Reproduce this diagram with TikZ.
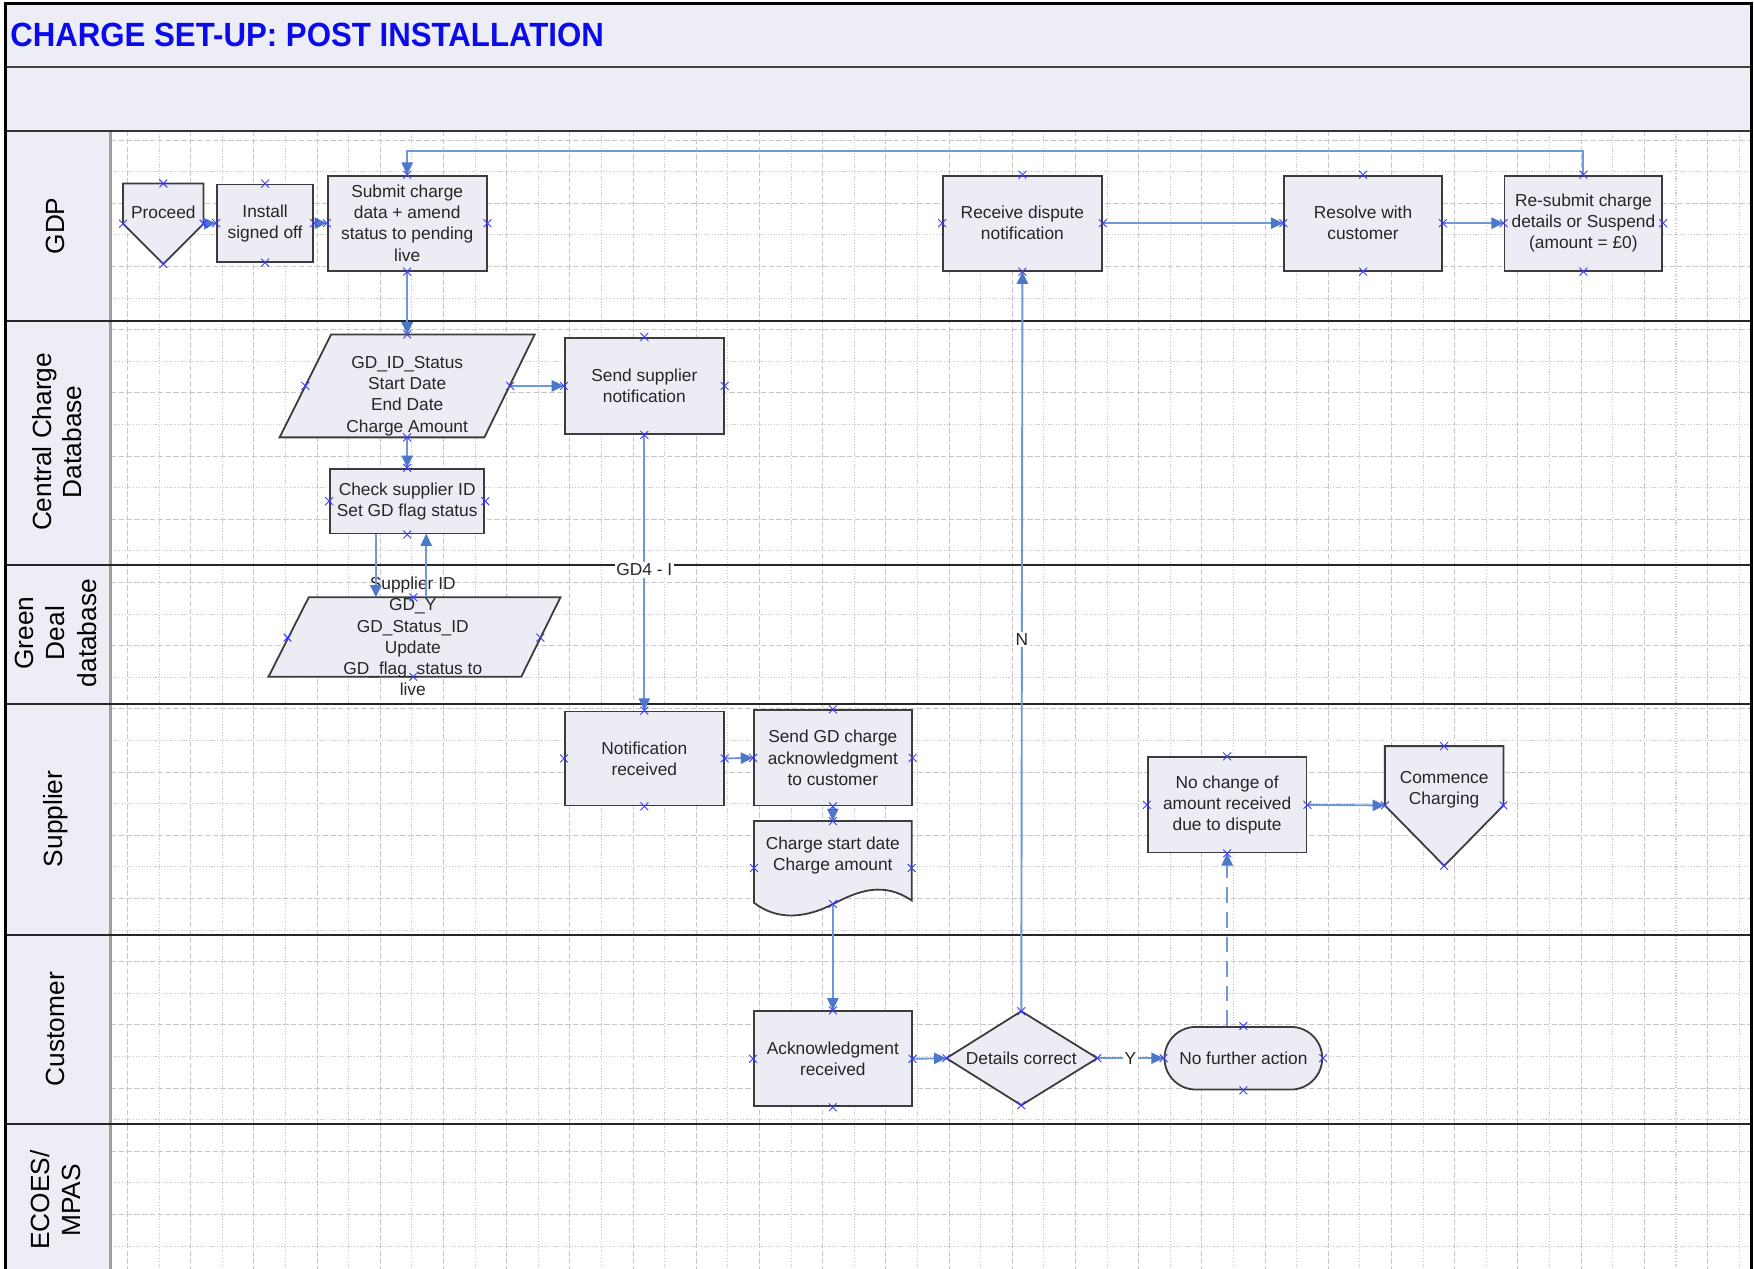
\documentclass[tikz,border=0pt]{standalone}
\usepackage{fontspec}
\setmainfont{Liberation Sans}
\usetikzlibrary{arrows.meta}
\definecolor{bandfill}{RGB}{237,237,246}
\definecolor{boxfill}{RGB}{236,236,245}
\definecolor{boxline}{RGB}{60,60,60}
\definecolor{conn}{RGB}{110,152,215}
\definecolor{connhead}{RGB}{75,120,200}
\definecolor{xmk}{RGB}{60,60,255}
\definecolor{titleblue}{RGB}{10,10,235}
\definecolor{gridc}{RGB}{200,200,200}
\newcommand\nodefont{\fontsize{15.5}{19}\selectfont}
\newcommand\lanefont{\fontsize{23.5}{27.5}\selectfont}
\newcommand\cxm[1]{\draw[xmark] #1 ++(-3.5,-3.5) -- ++(7,7) ++(-7,0) -- ++(7,-7);}
\begin{document}
\begin{tikzpicture}[x=1pt,y=-1pt,
  box/.style={draw=boxline, fill=boxfill, line width=1.6pt, align=center, font=\nodefont, text=black!85, inner sep=0pt},
  txt/.style={align=center, font=\nodefont, text=black!85, inner sep=0pt},
  shp/.style={draw=boxline, fill=boxfill, line width=1.6pt, line join=miter},
  flow/.style={draw=conn, line width=1.7pt, -{Triangle[length=11pt,width=10pt,color=connhead,fill=connhead]}},
  lbl/.style={fill=white, inner sep=1.5pt, font=\nodefont, text=black!85},
  lane/.style={align=center, rotate=90, font=\lanefont, inner sep=0pt},
  xmark/.style={draw=xmk, line width=0.8pt},
  gdash/.style={draw=gridc, line width=0.9pt, dash pattern=on 5pt off 2pt},
  gdot/.style={draw=gridc, line width=0.9pt, dash pattern=on 1pt off 1.5pt},
]
\useasboundingbox (0,0) rectangle (1568,1134);
\fill[white] (0,0) rectangle (1568,1134);
% bands
\fill[bandfill] (5,3) rectangle (1566,117);
\fill[bandfill] (5,117) rectangle (99,1134);
% grid
\begin{scope}
\clip (99,117) rectangle (1566,1134);
\foreach \i in {0,...,26} {
  \draw[gdash] ({114+56.5*\i},117) -- ++(0,1017);
  \draw[gdot] ({142.25+56.5*\i},117) -- ++(0,1017);
}
\foreach \i in {0,...,18} {
  \draw[gdot] (99,{125.2+56.5*\i-28.25}) -- ++(1467,0);
  \draw[gdash] (99,{125.2+56.5*\i}) -- ++(1467,0);
}
\end{scope}
% lane lines
\draw[line width=2.5pt, gray!75] (99,117) -- (99,1134);
\draw[line width=1.6pt, black!75] (5,60) -- (1566,60);
\draw[line width=1.6pt, black!80] (5,117) -- (1566,117);
\foreach \yy in {287,505,629,836,1005} {
  \draw[line width=1.8pt, black!85] (5,\yy) -- (1566,\yy);
}
\draw[line width=3pt] (5,1134) -- (5,3) -- (1566,3) -- (1566,1134);
% title
\node[anchor=west, inner sep=0pt, text=titleblue, font=\fontsize{30}{34}\selectfont\bfseries] (title) at (9,31) {\scalebox{0.93}[1]{CHARGE SET-UP: POST INSTALLATION}};
% lane labels
\node[lane] (lgdp) at (50,202) {GDP};
\node[lane] (lccd) at (51,395) {Central Charge\\Database};
\node[lane, font=\fontsize{23.5}{28}\selectfont] (lgdd) at (50,566) {Green\\Deal\\database};
\node[lane] (lsup) at (50,732) {Supplier};
\node[lane] (lcus) at (50,920) {Customer};
\node[lane] (leco) at (50,1073) {ECOES/\\MPAS};

% ---------- GDP lane
\filldraw[shp] (110,164) -- (182,164) -- (182,200) -- (146,236) -- (110,200) -- cycle;
\node[txt] (proceed) at (146,190) {Proceed};
\coordinate (procN) at (146,164); \coordinate (procS) at (146,236);
\coordinate (procE) at (182,200); \coordinate (procW) at (110,200);
\node[box, minimum width=86pt, minimum height=69pt] (install) at (237,199.5) {Install\\signed off};
\node[box, minimum width=142pt, minimum height=85pt] (submit) at (364,199.5) {Submit charge\\data + amend\\status to pending\\live};
\node[box, minimum width=142pt, minimum height=85pt] (receive) at (914,199.5) {Receive dispute\\notification};
\node[box, minimum width=141pt, minimum height=85pt] (resolve) at (1218.5,199.5) {Resolve with\\customer};
\node[box, minimum width=141pt, minimum height=85pt] (resubmit) at (1415.5,199.5) {Re-submit charge\\details or Suspend\\(amount = £0)};

% ---------- Central charge database
\filldraw[shp] (296,299) -- (478,299) -- (433,391) -- (250,391) -- cycle;
\node[txt] (gdid) at (364,354) {GD\_ID\_Status\\Start Date\\End Date\\Charge Amount};
\coordinate (gdidN) at (364,299); \coordinate (gdidS) at (364,391);
\coordinate (gdidE) at (456,345); \coordinate (gdidW) at (273,345);
\node[box, minimum width=142pt, minimum height=86pt] (sendsup) at (576,345) {Send supplier\\notification};
\node[box, minimum width=138pt, minimum height=58pt] (check) at (364,448) {Check supplier ID\\Set GD flag status};
\coordinate (chkA) at (336,477); \coordinate (chkB) at (381,477);

% ---------- Green deal database
\filldraw[shp] (276,534) -- (501,534) -- (466,605) -- (240,605) -- cycle;
\node[txt] (gdgreen) at (369,569) {Supplier ID\\GD\_Y\\GD\_Status\_ID\\Update\\GD\_flag\_status to\\live};
\coordinate (grN) at (369.5,534); \coordinate (grS) at (369.5,605);
\coordinate (grW) at (257,570); \coordinate (grE) at (483,570);
\coordinate (grA) at (336,534); \coordinate (grB) at (381,534);

% ---------- Supplier
\node[box, minimum width=142pt, minimum height=84pt] (notif) at (576,678) {Notification\\received};
\node[box, minimum width=141pt, minimum height=85pt] (sendgd) at (744.5,677.5) {Send GD charge\\acknowledgment\\to customer};
\filldraw[shp] (674,734) -- (815,734) -- (815,805) .. controls (790,788) and (768,796) .. (745,808) .. controls (722,820) and (696,824) .. (674,807) -- cycle;
\node[txt] (doc) at (744.5,765) {Charge start date\\Charge amount};
\coordinate (docN) at (744.5,734); \coordinate (docS) at (744.5,808);
\coordinate (docW) at (674,776); \coordinate (docE) at (815,776);
\node[box, minimum width=142pt, minimum height=85pt] (nochange) at (1097,719.5) {No change of\\amount received\\due to dispute};
\filldraw[shp] (1238,667) -- (1344,667) -- (1344,720) -- (1291,774) -- (1238,720) -- cycle;
\node[txt] (commence) at (1291,706) {Commence\\Charging};
\coordinate (comN) at (1291,667); \coordinate (comS) at (1291,774);
\coordinate (comW) at (1238,720); \coordinate (comE) at (1344,720);

% ---------- Customer
\node[box, minimum width=141pt, minimum height=85pt] (ack) at (744.5,946.5) {Acknowledgment\\received};
\filldraw[shp] (846,946) -- (913,904) -- (981,946) -- (913,988) -- cycle;
\node[txt] (details) at (913,946) {Details correct};
\coordinate (detN) at (913,904); \coordinate (detS) at (913,988);
\coordinate (detW) at (846,946); \coordinate (detE) at (981,946);
\node[box, rounded corners=28pt, minimum width=141pt, minimum height=56pt] (nfa) at (1111.5,946) {No further action};

% ---------- connectors
\draw[flow] (procE) -- (install.west);
\draw[flow] (install.east) -- (submit.west);
\draw[flow] (submit.south) -- (gdidN);
\draw[flow] (gdidE) -- (sendsup.west);
\draw[flow] (gdidS) -- (check.north);
\draw[flow] (chkA) -- (grA);
\draw[flow] (grB) -- (chkB);
\draw[flow] (sendsup.south) -- node[lbl, pos=0.49] (gd4) {GD4 - I} (notif.north);
\draw[flow] (notif.east) -- (sendgd.west);
\draw[flow] (sendgd.south) -- (docN);
\draw[flow] (docS) -- (ack.north);
\draw[flow] (ack.east) -- (detW);
\draw[flow] (detE) -- node[lbl] (ylab) {Y} (nfa.west);
\draw[flow] (detN) -- node[lbl, pos=0.503] (nlab) {N} (receive.south);
\draw[flow] (receive.east) -- (resolve.west);
\draw[flow] (resolve.east) -- (resubmit.west);
\draw[flow] (resubmit.north) -- ++(0,-21) -| (submit.north);
\draw[flow, dash pattern=on 14pt off 8pt] (nfa.north -| nochange.south) -- (nochange.south);
\draw[flow] (nochange.east) -- (comW);

% ---------- connection point marks
\foreach \n in {install,submit,receive,resolve,resubmit,sendsup,check,notif,sendgd,nochange,ack,nfa} {
  \foreach \a in {north,south,east,west} { \cxm{(\n.\a)} }
}
\foreach \c in {procN,procS,procE,procW,gdidN,gdidS,gdidE,gdidW,grN,grS,grW,grE,docN,docS,docW,docE,comN,comS,comW,comE,detN,detS,detW,detE} {
  \cxm{(\c)}
}
\end{tikzpicture}
\end{document}
